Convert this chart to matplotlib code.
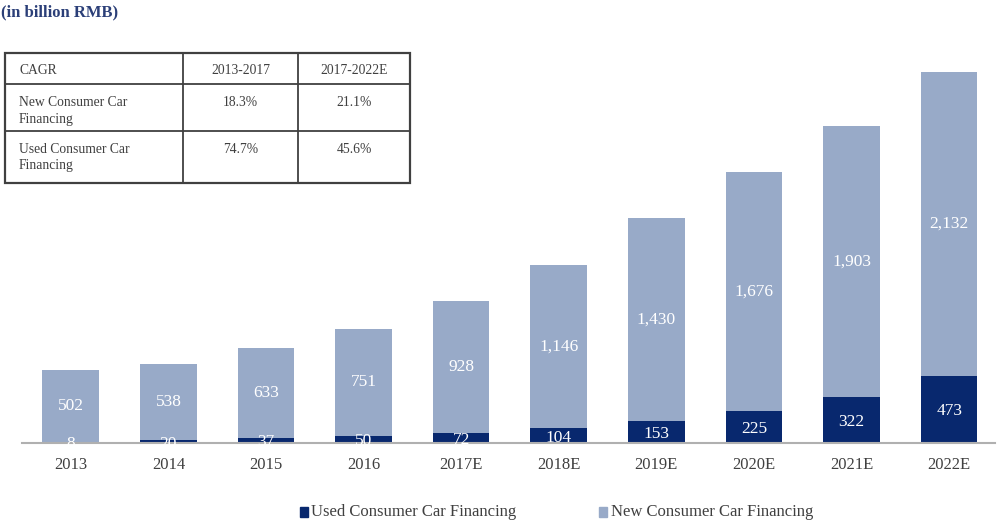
import matplotlib
matplotlib.use("Agg")
import matplotlib.pyplot as plt
from matplotlib.patches import Rectangle
from matplotlib.lines import Line2D

years = ["2013", "2014", "2015", "2016", "2017E", "2018E", "2019E", "2020E", "2021E", "2022E"]
used = [8, 20, 37, 50, 72, 104, 153, 225, 322, 473]
new = [502, 538, 633, 751, 928, 1146, 1430, 1676, 1903, 2132]

cagr_header = ["CAGR", "2013-2017", "2017-2022E"]
cagr_rows = [
    ["New Consumer Car\nFinancing", "18.3%", "21.1%"],
    ["Used Consumer Car\nFinancing", "74.7%", "45.6%"],
]

DARK = "#08286e"
LIGHT = "#98aac8"
TXT = "#404040"

plt.rcParams["font.family"] = ["Liberation Serif", "DejaVu Serif"]

W, H = 997, 522
fig = plt.figure(figsize=(W / 100, H / 100), dpi=100)

def fx(px):
    return px / W

def fy(py):
    return 1 - py / H

# axes: x from 22 to 995 px, y from 60 to 443 px
ax = fig.add_axes([fx(22), fy(443), fx(995) - fx(22), fy(60) - fy(443)])
x = list(range(len(years)))
ax.bar(x, used, width=0.58, color=DARK, zorder=2)
ax.bar(x, new, bottom=used, width=0.58, color=LIGHT, zorder=2)
ax.set_xlim(-0.5, 9.47)
ax.set_ylim(0, 383 / 0.1424)

for i in x:
    ax.text(i, used[i] / 2, f"{used[i]:,}", ha="center", va="center_baseline",
            color="white", fontsize=12.5, zorder=3)
    ax.text(i, used[i] + new[i] / 2, f"{new[i]:,}", ha="center", va="center",
            color="white", fontsize=12.5, zorder=3)

for s in ["top", "right", "left"]:
    ax.spines[s].set_visible(False)
ax.spines["bottom"].set_color("#b0b0b0")
ax.spines["bottom"].set_linewidth(1.5)
ax.set_yticks([])
ax.set_xticks(x)
ax.set_xticklabels(years, fontsize=12, color=TXT)
ax.tick_params(axis="x", length=0, pad=10)

# title
fig.text(fx(1), fy(12), "(in billion RMB)", fontsize=12, fontweight="bold",
         color="#2b3f78", ha="left", va="center")

# CAGR table
col_edges = [5, 183, 298, 410]
row_edges = [53, 84, 131, 183]
fig.add_artist(Rectangle((fx(5), fy(183)), fx(410) - fx(5), fy(53) - fy(183),
                         transform=fig.transFigure, fill=True, facecolor="white",
                         edgecolor="#404040", linewidth=1.6, zorder=5))
for c in col_edges[1:-1]:
    fig.add_artist(Line2D([fx(c), fx(c)], [fy(53), fy(183)], color="#404040",
                          linewidth=1.3, zorder=6))
for r in row_edges[1:-1]:
    fig.add_artist(Line2D([fx(5), fx(410)], [fy(r), fy(r)], color="#404040",
                          linewidth=1.3, zorder=6))

col_centers = [(col_edges[k] + col_edges[k + 1]) / 2 for k in range(3)]
fig.text(fx(19), fy(71), cagr_header[0], fontsize=9.8, color=TXT, ha="left",
         va="center", zorder=7)
for k in (1, 2):
    fig.text(fx(col_centers[k]), fy(71), cagr_header[k], fontsize=9.8, color=TXT,
             ha="center", va="center", zorder=7)
for j, row in enumerate(cagr_rows):
    top = row_edges[j + 1]
    fig.text(fx(19), fy(top + 12), row[0], fontsize=9.8, color=TXT, ha="left",
             va="top", linespacing=1.35, zorder=7)
    for k in (1, 2):
        fig.text(fx(col_centers[k]), fy(top + 12), row[k], fontsize=9.8, color=TXT,
                 ha="center", va="top", zorder=7)

# legend
fig.add_artist(Rectangle((fx(300), fy(517)), fx(8), fy(507) - fy(517),
                         transform=fig.transFigure, color=DARK))
fig.text(fx(311), fy(512), "Used Consumer Car Financing", fontsize=12,
         color=TXT, ha="left", va="center")
fig.add_artist(Rectangle((fx(599), fy(517)), fx(8), fy(507) - fy(517),
                         transform=fig.transFigure, color=LIGHT))
fig.text(fx(611), fy(512), "New Consumer Car Financing", fontsize=12,
         color=TXT, ha="left", va="center")

fig.savefig("out.png", dpi=100)
